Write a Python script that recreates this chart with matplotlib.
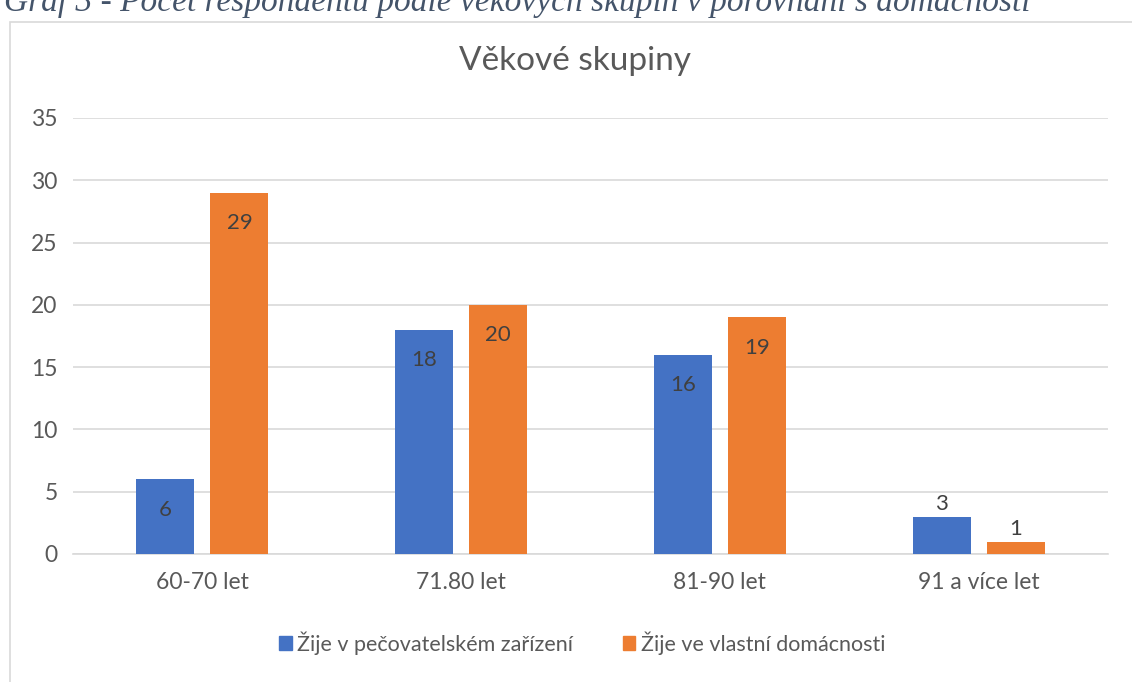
import matplotlib.pyplot as plt
import numpy as np
from matplotlib.patches import Rectangle

# data
categories = ["60-70 let", "71.80 let", "81-90 let", "91 a více let"]
series_names = ["Žije v pečovatelském zařízení", "Žije ve vlastní domácnosti"]
facility = [6, 18, 16, 3]
home = [29, 20, 19, 1]
yticks = [0, 5, 10, 15, 20, 25, 30, 35]

colors = ["#4472C4", "#ED7D31"]
text_col = "#595959"
plt.rcParams['font.family'] = ['Lato', 'DejaVu Sans']

fig = plt.figure(figsize=(11.32, 6.82), dpi=100)
fig.patch.set_facecolor("white")

# chart frame (cut off at right and bottom)
fig.patches.append(Rectangle((10/1132, -0.1), 1.2, 1 - 22/682 + 0.1,
                             transform=fig.transFigure, fill=False,
                             edgecolor="#D9D9D9", linewidth=1.2))

# caption, cut off at the top of the image like in the source
fig.text(4/1132, 1 - 11/682, "Graf 3 - Počet respondentů podle věkových skupin v porovnání s domácností",
         family="Liberation Serif", style="italic", fontsize=24, color="#44546A",
         va="baseline", ha="left")

ax = fig.add_axes([73/1132, 1 - 554/682, (1108 - 73)/1132, (554 - 118)/682])
x = np.arange(len(categories))
w = 0.224
off = 0.143

for vals, dx, c in [(facility, -off, colors[0]), (home, off, colors[1])]:
    bars = ax.bar(x + dx, vals, w, color=c, zorder=3)
    for b, v in zip(bars, vals):
        cx = b.get_x() + b.get_width() / 2
        dy = -22 if v >= 5 else 9
        ax.annotate(str(v), (cx, v), xytext=(0, dy), textcoords="offset points",
                    ha="center", va="center", fontsize=16, color="#404040", zorder=4)

ax.set_xlim(-0.5, len(categories) - 0.5)
ax.set_ylim(0, 35)
ax.set_yticks(yticks)
ax.set_xticks(x)
ax.set_xticklabels(categories)
ax.tick_params(axis="both", length=0, labelsize=16.5, labelcolor=text_col)
ax.tick_params(axis="x", pad=13)
ax.tick_params(axis="y", pad=11)
ax.grid(axis="y", color="#D9D9D9", linewidth=1.2, zorder=0)
for s in ["top", "right", "left"]:
    ax.spines[s].set_visible(False)
ax.spines["bottom"].set_color("#D9D9D9")
ax.spines["bottom"].set_linewidth(1.2)

fig.text(575/1132, 1 - 61/682, "Věkové skupiny", ha="center", va="center",
         fontsize=24, color=text_col)

handles = [Rectangle((0, 0), 1, 1, color=c) for c in colors]
fig.legend(handles, series_names, loc="center", bbox_to_anchor=(582/1132, 1 - 643/682),
           ncol=2, frameon=False, fontsize=15.5, labelcolor=text_col,
           handlelength=0.6, handleheight=0.6, handletextpad=0.25, columnspacing=2.3)

fig.savefig("out.png", dpi=100)
